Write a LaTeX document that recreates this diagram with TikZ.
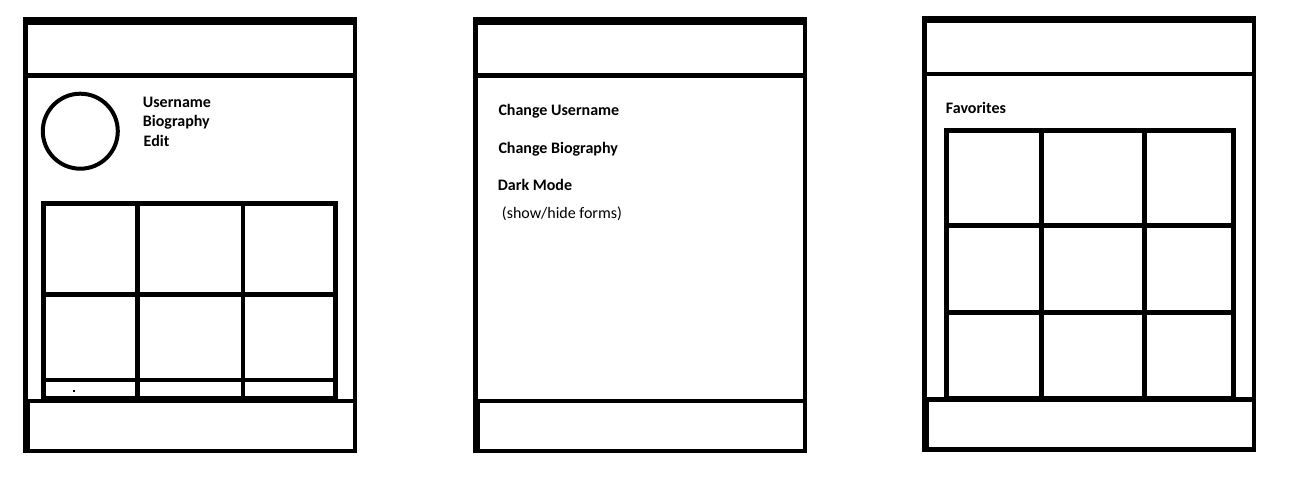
\documentclass[tikz,border=0pt]{standalone}
\usepackage{fontspec}
\setmainfont{Carlito}
\usetikzlibrary{positioning}
\tikzstyle{frameLine} = [line width=4.5pt, line cap=rect]
\tikzstyle{gridLine} = [line width=4.5pt, line cap=rect]
\tikzstyle{avatar} = [draw, circle, line width=4pt, inner sep=0, minimum size=75pt]
\tikzstyle{label} = [inner sep=0, anchor=base west, font=\fontsize{16}{19}\selectfont\bfseries]
\tikzstyle{hint} = [inner sep=0, anchor=base west, font=\fontsize{16}{19}\selectfont]

\begin{document}
\begin{tikzpicture}[x=1pt, y=-1pt]
		\useasboundingbox (0,0) rectangle (1299,487);
		
		% grids first, the footers are drawn over them
		\draw[gridLine] (43.5,203.5) rectangle (335.5,398);	% Bilder Profil
		\draw[gridLine] (137.5,203.5) -- (137.5,398);
		\draw[gridLine] (243,203.5) -- (243,398);
		\draw[gridLine] (43.5,294.3) -- (335.5,294.3);
		\draw[gridLine] (43.5,380) -- (335.5,380);
		\fill (73,390) rectangle (75,392);						% Punkt
		
		\draw[gridLine] (946.7,130.5) rectangle (1233.3,398);	% Favoriten
		\draw[gridLine] (1041.5,130.5) -- (1041.5,398);
		\draw[gridLine] (1144.5,130.5) -- (1144.5,398);
		\draw[gridLine] (946.7,225.5) -- (1233.3,225.5);
		\draw[gridLine] (946.7,312.5) -- (1233.3,312.5);
		
		% phone frames
		\foreach \dx/\dy in {0/0, 450/0, 899/-1.5}{
			\begin{scope}[shift={(\dx,\dy)}]
				\draw[frameLine] (25.5,19.5) rectangle (355.2,450.8);	% Rahmen
				\draw[frameLine] (25.5,22.5) rectangle (355.2,75.5);	% Kopfzeile
				\draw[frameLine] (27.5,401) rectangle (355.2,450.8);	% Fusszeile
			\end{scope}
		}
		
		% profile
		\node[avatar] (pic) at (80.3,131.2) {};					% Profilbild
		\node[label] (user) at (142.7,107.5) {Username};
		\node[label] (bio) at (142.7,126.5) {Biography};
		\node[label] (edit) at (143.5,146.5) {Edit};
		
		% settings
		\node[label] (ch-user) at (498.3,115) {Change Username};
		\node[label] (ch-bio) at (498.3,153) {Change Biography};
		\node[label] (dark) at (497.7,190) {Dark Mode};
		\node[hint] (forms) at (501.7,218) {(show/hide forms)};
		
		% favorites
		\node[label] (fav) at (945.7,113.3) {Favorites};
		\end{tikzpicture}
\end{document}
